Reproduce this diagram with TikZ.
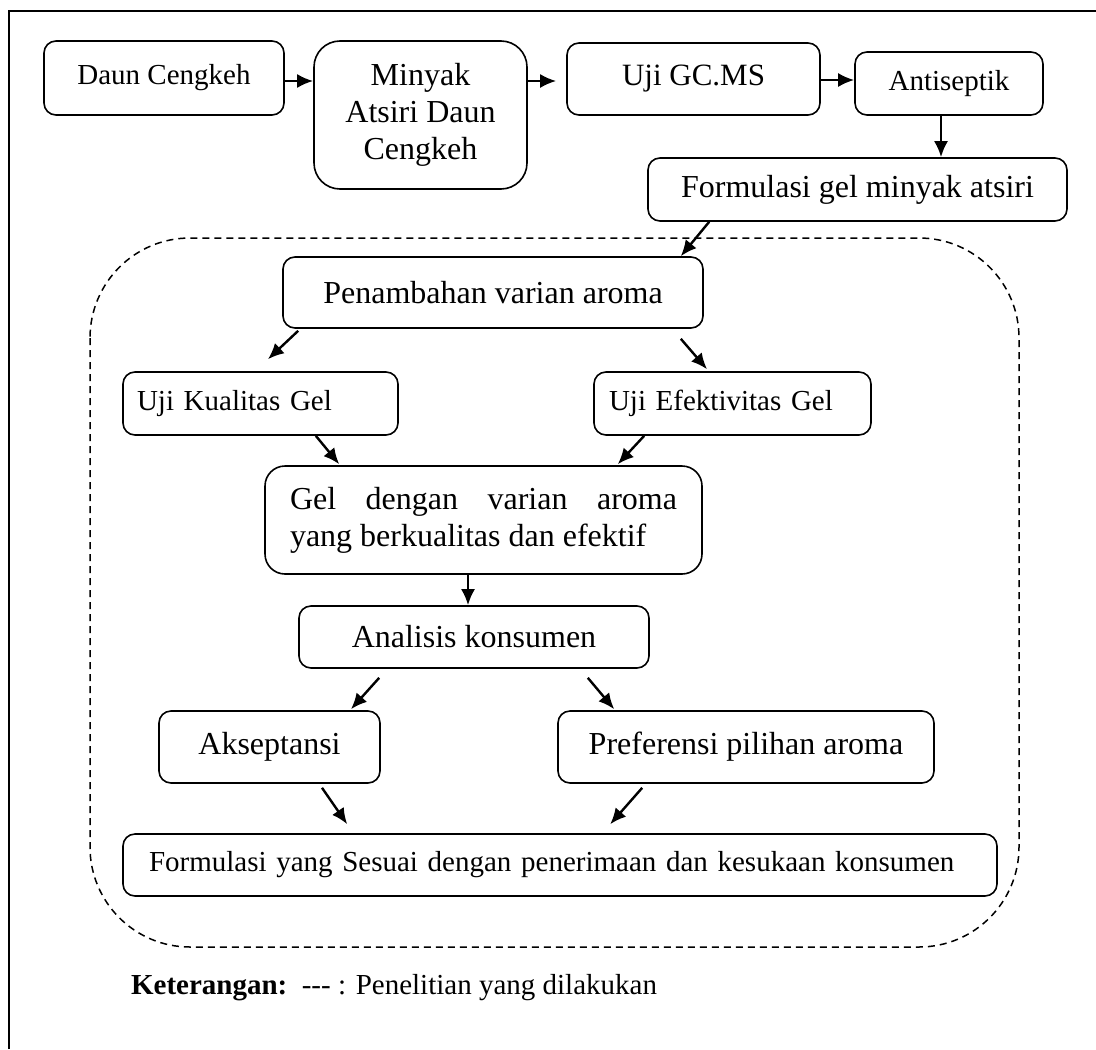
\documentclass[tikz,border=0pt]{standalone}
\usepackage{fontspec}
\setmainfont{Liberation Serif}
\usetikzlibrary{arrows.meta, positioning, calc}

\begin{document}
\begin{tikzpicture}[
        x=0.5pt, y=-0.5pt,
        >={Latex[length=8pt, width=7pt]},
        box/.style={draw, rounded corners=6pt, line width=0.8pt, align=center, inner sep=0pt},
        flow/.style={->, line width=1.2pt},
        region/.style={dash pattern=on 3.5pt off 2.5pt, line width=0.75pt, rounded corners=50pt},
        big/.style={font=\fontsize{16}{18.5}\selectfont},
        small/.style={font=\fontsize{14.5}{17}\selectfont}
        ]
        \useasboundingbox (0,0) rectangle (1096,1049);

        % Frame
        \draw[line width=0.8pt] (9,1049) -- (9,11) -- (1096,11);

        % Top row
        \node[box, small, minimum width=120pt, minimum height=37pt] (daun) at (164,78) {Daun Cengkeh};
        \node[box, big, rounded corners=13pt, minimum width=106.5pt, minimum height=74pt] (minyak) at (420.5,115) {Minyak\\Atsiri Daun\\Cengkeh};
        \node[box, font=\fontsize{15.5}{18}\selectfont, minimum width=126.5pt, minimum height=36pt] (ujigc) at (693.5,79) {Uji GC.MS};
        \node[box, small, minimum width=94pt, minimum height=31.5pt] (anti) at (949,83.5) {Antiseptik};
        \node[box, big, minimum width=209.5pt, minimum height=31.5pt] (formgel) at (857.5,189.5) {Formulasi gel minyak atsiri};

        \draw[flow] (daun.east |- 0,81) -- (minyak.west |- 0,81);
        \draw[flow, shorten >=5pt] (minyak.east |- 0,81) -- (ujigc.west |- 0,81);
        \draw[flow] (ujigc.east |- 0,80) -- (anti.west |- 0,80);
        \draw[flow] (anti.south -| 941,0) -- (formgel.north -| 941,0);

        % Research area
        \draw[region] (90,238) rectangle (1019,947);

        \node[box, big, minimum width=210pt, minimum height=35.5pt] (pen) at (493,292.5) {Penambahan varian aroma};
        \node[box, small, text width=123.5pt, inner xsep=7pt, align=left, minimum height=31.5pt] (kual) at (260.5,403.5) {Uji Kualitas Gel};
        \node[box, small, text width=123.5pt, inner xsep=7.5pt, align=left, minimum height=31.5pt] (efek) at (732.5,403.5) {Uji Efektivitas Gel};
        \node[box, big, rounded corners=10pt, text width=193.5pt, inner xsep=12.5pt, align=justify, minimum height=54pt] (gel) at (483.5,520) {Gel dengan varian aroma\linebreak yang berkualitas dan efektif};
        \node[box, big, minimum width=175pt, minimum height=31pt] (ana) at (474,637) {Analisis konsumen};
        \node[box, big, minimum width=110.5pt, minimum height=36pt] (aks) at (269.5,747) {Akseptansi};
        \node[box, big, minimum width=188pt, minimum height=36pt] (pref) at (746,747) {Preferensi pilihan aroma};
        \node[box, small, text width=411pt, inner xsep=13pt, align=left, minimum height=31pt] (fin) at (560,865) {Formulasi yang Sesuai dengan penerimaan dan kesukaan konsumen};

        \draw[flow] ($(formgel.south west)+(62,0)$) -- ($(pen.north east)+(-23,0)$);
        \draw[flow] ($(pen.south west)+(16,2)$) -- ($(kual.north)+(7.5,-12)$);
        \draw[flow] ($(pen.south east)+(-23,10)$) -- ($(efek.north)+(-25.5,-2)$);
        \draw[flow] ($(kual.south east)+(-83,0)$) -- ($(gel.north west)+(75,-1)$);
        \draw[flow] ($(efek.south west)+(51,0)$) -- ($(gel.north east)+(-85,-1)$);
        \draw[flow] (gel.south -| 468,0) -- (ana.north -| 468,0);
        \draw[flow] ($(ana.south west)+(81,9)$) -- ($(aks.north)+(81.5,-1)$);
        \draw[flow] ($(ana.south east)+(-62,9)$) -- ($(pref.north west)+(57,-1)$);
        \draw[flow] ($(aks.south)+(52.5,4)$) -- ($(fin.north west)+(225,-9)$);
        \draw[flow] ($(pref.south west)+(85,4)$) -- ($(fin.north west)+(488,-9)$);

        % Legend
        \node[anchor=west, small] (ket) at (124,988) {\textbf{Keterangan:}\ \ -{}-{}- : Penelitian yang dilakukan};
\end{tikzpicture}
\end{document}
